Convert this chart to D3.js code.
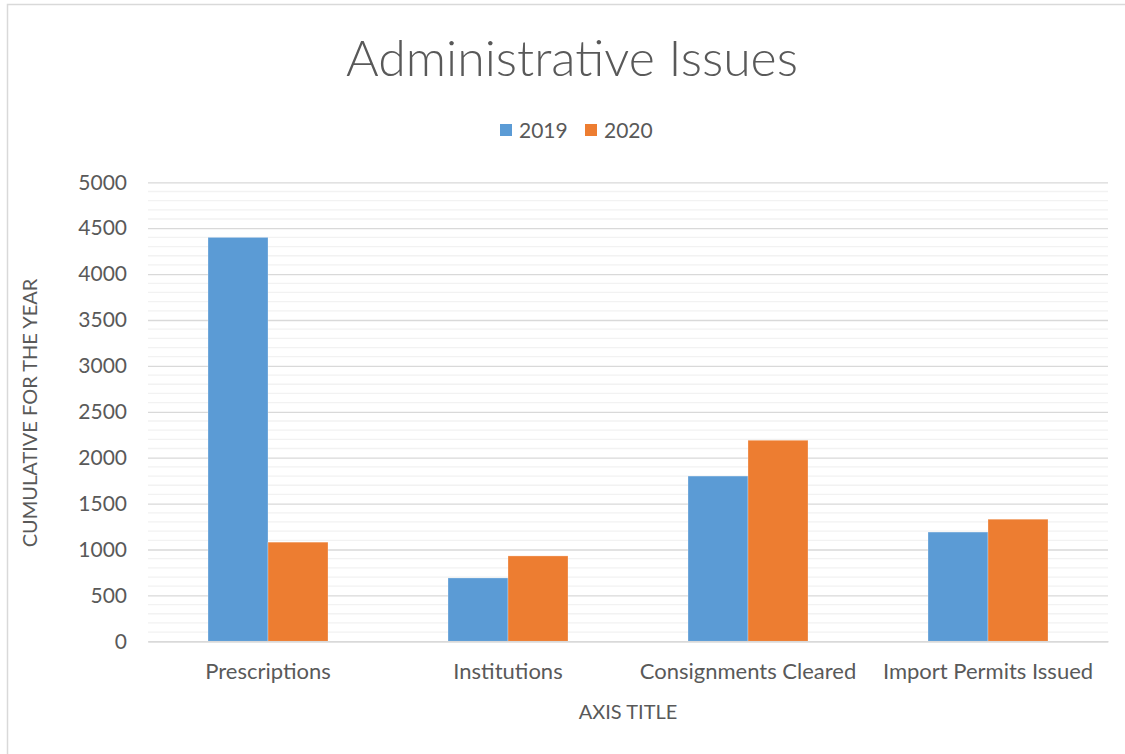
<!DOCTYPE html>
<html><head><meta charset="utf-8">
<script src="https://cdn.jsdelivr.net/npm/d3@7"></script>
<style>html,body{margin:0;padding:0;background:#fff;overflow:hidden}</style>
</head><body>
<script>
const categories = ["Prescriptions","Institutions","Consignments Cleared","Import Permits Issued"];
const seriesNames = ["2019","2020"];
const values2019 = [4400, 690, 1800, 1190];
const values2020 = [1080, 930, 2190, 1330];
const yTicks = [0,500,1000,1500,2000,2500,3000,3500,4000,4500,5000];
const colors = ["#5b9bd5","#ed7d31"];
const font = "Lato, 'Open Sans', sans-serif";

const W=1125,H=754;
const svg=d3.select("body").append("svg").attr("width",W).attr("height",H);
svg.append("rect").attr("x",7.5).attr("y",4.5).attr("width",W+10).attr("height",H+10)
  .attr("fill","#fff").attr("stroke","#d9d9d9").attr("stroke-width",1.5);

const m={l:148,r:1108,t:182.3,b:641.3};
const x=d3.scaleBand().domain(categories).range([m.l,m.r]).paddingInner(0.5).paddingOuter(0.25);
const xs=d3.scaleBand().domain(seriesNames).range([0,x.bandwidth()]);
const y=d3.scaleLinear().domain([0,5000]).range([m.b,m.t]);

// minor gridlines
const minor=d3.range(100,5000,100).filter(v=>v%500!==0);
svg.append("g").selectAll("line").data(minor).join("line")
  .attr("x1",m.l).attr("x2",m.r).attr("y1",d=>y(d)).attr("y2",d=>y(d))
  .attr("stroke","#f2f2f2").attr("stroke-width",1.3);
// major gridlines via axis
const ga=svg.append("g").attr("transform",`translate(${m.l},0)`)
  .call(d3.axisLeft(y).tickValues(yTicks).tickFormat(d3.format("d")).tickSize(-(m.r-m.l)).tickPadding(21));
ga.select(".domain").remove();
ga.selectAll(".tick line").attr("stroke","#d9d9d9").attr("stroke-width",1.3);
ga.selectAll(".tick text").attr("fill","#595959").style("font-family",font).style("font-size","21px");

// bars
const data=categories.map((c,i)=>({c,vals:[values2019[i],values2020[i]]}));
const g=svg.append("g").selectAll("g").data(data).join("g").attr("transform",d=>`translate(${x(d.c)},0)`);
g.selectAll("rect").data(d=>d.vals.map((v,j)=>({v,s:seriesNames[j],j}))).join("rect")
  .attr("x",d=>xs(d.s)).attr("width",xs.bandwidth()).attr("y",d=>y(d.v)).attr("height",d=>y(0)-y(d.v))
  .attr("fill",d=>colors[d.j]).attr("stroke","#fff").attr("stroke-opacity",0.35).attr("stroke-width",0.8);

// x axis
const gx=svg.append("g").attr("transform",`translate(0,${m.b})`).call(d3.axisBottom(x).tickSize(0).tickPadding(22));
gx.select(".domain").attr("stroke","#d9d9d9").attr("stroke-width",1.5);
gx.selectAll(".tick text").attr("fill","#595959").style("font-family",font).style("font-size","22px");

// title
svg.append("text").attr("x",572).attr("y",76).attr("text-anchor","middle")
  .attr("fill","#595959").style("font-family",font).style("font-weight","300").style("font-size","50px").text("Administrative Issues");
// legend
const leg=svg.append("g");
const lx=[500,585];
seriesNames.forEach((s,i)=>{
  leg.append("rect").attr("x",lx[i]).attr("y",124).attr("width",12).attr("height",12).attr("fill",colors[i]);
  leg.append("text").attr("x",lx[i]+19).attr("y",138).attr("fill","#595959")
    .style("font-family",font).style("font-size","21px").text(s);
});
// axis titles
svg.append("text").attr("transform","translate(37,413) rotate(-90)").attr("text-anchor","middle")
  .attr("fill","#595959").style("font-family",font).style("font-size","20px").text("CUMULATIVE FOR THE YEAR");
svg.append("text").attr("x",628).attr("y",719).attr("text-anchor","middle")
  .attr("fill","#595959").style("font-family",font).style("font-size","20px").text("AXIS TITLE");
</script>
</body></html>
